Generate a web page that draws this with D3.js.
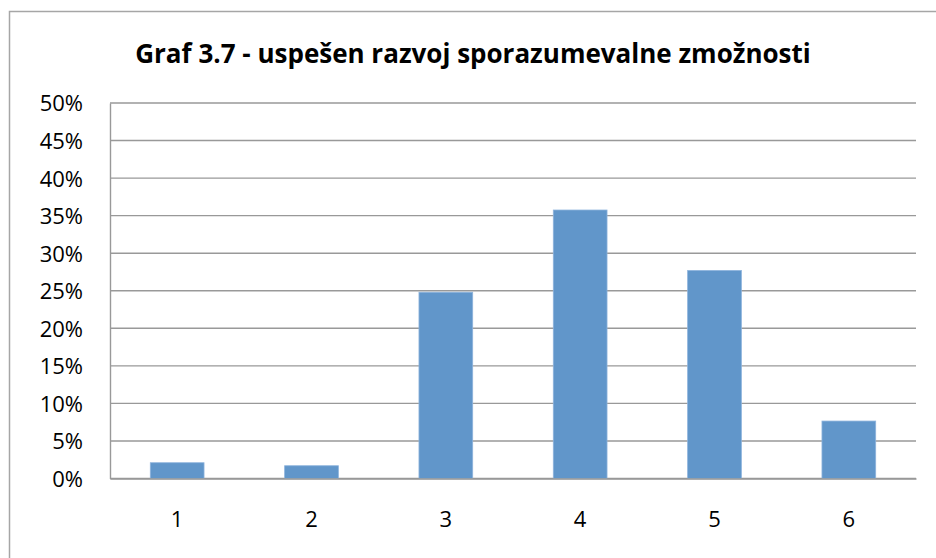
<!DOCTYPE html>
<meta charset="utf-8">
<style>
  body { margin: 0; background: #fff; }
  text { font-family: "Open Sans", "Liberation Sans", sans-serif; fill: #000; }
</style>
<script src="https://d3js.org/d3.v7.min.js"></script>
<div id="chart"></div>
<script>
// data
var categories = ["1", "2", "3", "4", "5", "6"];
var values = [0.021, 0.017, 0.248, 0.3575, 0.277, 0.0765];
var yTicks = [0, 0.05, 0.10, 0.15, 0.20, 0.25, 0.30, 0.35, 0.40, 0.45, 0.50];
var title = "Graf 3.7 - uspešen razvoj sporazumevalne zmožnosti";

var W = 936, H = 558;
var margin = {top: 103, right: 20, bottom: 79, left: 110},
    width = 916 - margin.left,
    height = 478.5 - margin.top;

var svg = d3.select("#chart").append("svg")
    .attr("width", W)
    .attr("height", H);

// outer chart border
svg.append("rect")
    .attr("x", 9.5).attr("y", 11.5)
    .attr("width", 940).attr("height", 600)
    .attr("fill", "none")
    .attr("stroke", "#a6a6a6")
    .attr("stroke-width", 1.5);

// title
svg.append("text")
    .attr("x", 473)
    .attr("y", 63)
    .attr("text-anchor", "middle")
    .style("font-weight", "bold")
    .style("font-size", "26px")
    .text(title);

var g = svg.append("g")
    .attr("transform", "translate(" + margin.left + "," + margin.top + ")");

var x = d3.scaleBand()
    .domain(categories)
    .range([0, width])
    .paddingInner(0.6)
    .paddingOuter(0.3);

var y = d3.scaleLinear()
    .domain([0, 0.5])
    .range([height, 0]);

// gridlines
g.append("g")
  .selectAll("line")
  .data(yTicks)
  .join("line")
    .attr("x1", 0).attr("x2", width)
    .attr("y1", function(d) { return y(d); })
    .attr("y2", function(d) { return y(d); })
    .attr("stroke", "#999")
    .attr("stroke-width", 1.4);

// y axis
var yAxis = g.append("g")
    .call(d3.axisLeft(y).tickValues(yTicks).tickSize(0).tickPadding(27)
      .tickFormat(d3.format(".0%")));
yAxis.select(".domain").attr("stroke", "#999").attr("stroke-width", 1.4);
yAxis.selectAll("text")
    .style("font-size", "22px")
    .style("font-family", "'Open Sans', sans-serif")
    .attr("dy", "0.36em");

// bars
g.append("g")
  .selectAll("rect")
  .data(values)
  .join("rect")
    .attr("x", function(d, i) { return x(categories[i]); })
    .attr("y", function(d) { return y(d); })
    .attr("width", x.bandwidth())
    .attr("height", function(d) { return height - y(d); })
    .attr("fill", "#6196ca")
    .attr("stroke", "#8db3dc")
    .attr("stroke-width", 0.8);

// x axis
var xAxis = g.append("g")
    .attr("transform", "translate(0," + height + ")")
    .call(d3.axisBottom(x).tickSize(0).tickPadding(33));
xAxis.select(".domain").attr("stroke", "#999").attr("stroke-width", 1.6);
xAxis.selectAll("text")
    .style("font-size", "22px")
    .style("font-family", "'Open Sans', sans-serif");
</script>
